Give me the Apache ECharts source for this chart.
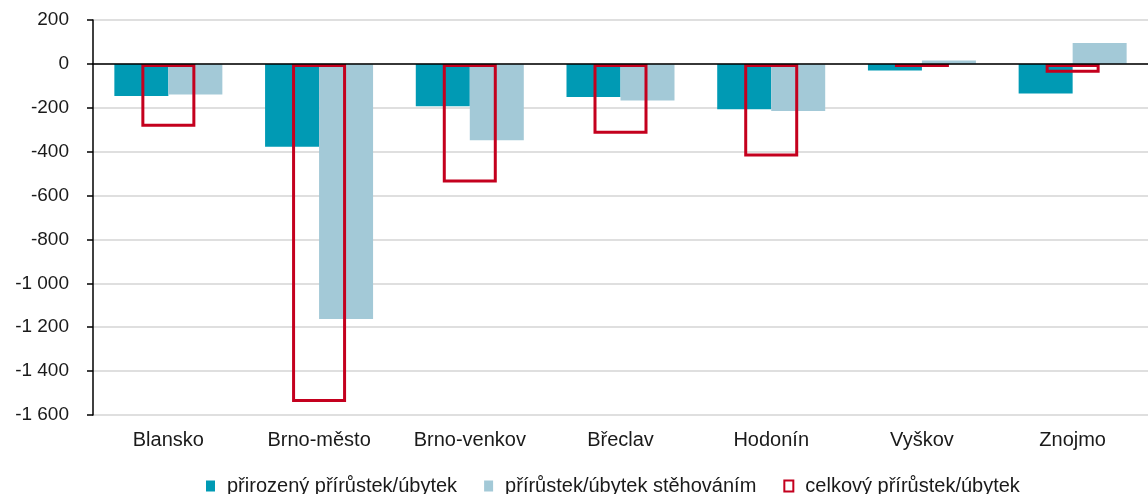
<!DOCTYPE html>
<html>
<head>
<meta charset="utf-8">
<script src="https://cdn.jsdelivr.net/npm/echarts@6/dist/echarts.min.js"></script>
<style>
html,body{margin:0;padding:0;background:#fff;}
#c{width:1148px;height:494px;}
</style>
</head>
<body>
<div id="c"></div>
<script>
const categories = ['Blansko', 'Brno-město', 'Brno-venkov', 'Břeclav', 'Hodonín', 'Vyškov', 'Znojmo'];
const natural = [-146, -378, -193, -151, -207, -30, -135];
const migration = [-140, -1163, -348, -167, -215, 16, 95];
const total = [-286, -1541, -541, -318, -422, -14, -40];
const seriesNames = ['přirozený přírůstek/úbytek', 'přírůstek/úbytek stěhováním', 'celkový přírůstek/úbytek'];

const fmt = v => {
  const s = Math.abs(v).toString().replace(/\B(?=(\d{3})+(?!\d))/g, ' ');
  return (v < 0 ? '-' : '') + s;
};

const chart = echarts.init(document.getElementById('c'), null, {renderer: 'canvas'});
const font = 'Liberation Sans, Arial, sans-serif';
chart.setOption({
  animation: false,
  textStyle: {fontFamily: font},
  grid: {left: 93, right: 0, top: 20, bottom: 79},
  legend: {
    top: 476,
    left: 206,
    padding: 0,
    icon: 'rect',
    itemWidth: 9,
    itemHeight: 11,
    itemGap: 27,
    textStyle: {fontSize: 20, color: '#1a1a1a', fontFamily: font, padding: [0, 0, 0, 7]},
    data: seriesNames
  },
  xAxis: [
    {
      type: 'category',
      data: categories,
      z: 10,
      axisLine: {onZero: true, lineStyle: {color: '#000', width: 1.5}},
      axisTick: {show: false},
      axisLabel: {fontSize: 20, color: '#1a1a1a', margin: 15, fontFamily: font, interval: 0},
    },
    {
      type: 'category',
      data: categories,
      show: false
    }
  ],
  yAxis: {
    type: 'value',
    min: -1600,
    max: 200,
    interval: 200,
    axisLine: {show: true, lineStyle: {color: '#000', width: 1.5}},
    axisTick: {show: true, length: 6, lineStyle: {color: '#000', width: 1.5}},
    axisLabel: {fontSize: 19, color: '#1a1a1a', margin: 24, formatter: fmt, fontFamily: font},
    splitLine: {show: true, lineStyle: {color: '#d4d4d4', width: 1.5}}
  },
  series: [
    {
      name: seriesNames[0],
      type: 'bar',
      xAxisIndex: 0,
      data: natural,
      barWidth: 54,
      barGap: '0%',
      itemStyle: {color: '#009ab4'}
    },
    {
      name: seriesNames[1],
      type: 'bar',
      xAxisIndex: 0,
      data: migration,
      barWidth: 54,
      barGap: '0%',
      itemStyle: {color: '#a3c9d7'}
    },
    {
      name: seriesNames[2],
      type: 'bar',
      xAxisIndex: 1,
      data: total,
      barWidth: 54,
      z: 5,
      itemStyle: {color: 'rgba(255,255,255,0)', borderColor: '#c4001e', borderWidth: 3}
    }
  ]
});
</script>
</body>
</html>
